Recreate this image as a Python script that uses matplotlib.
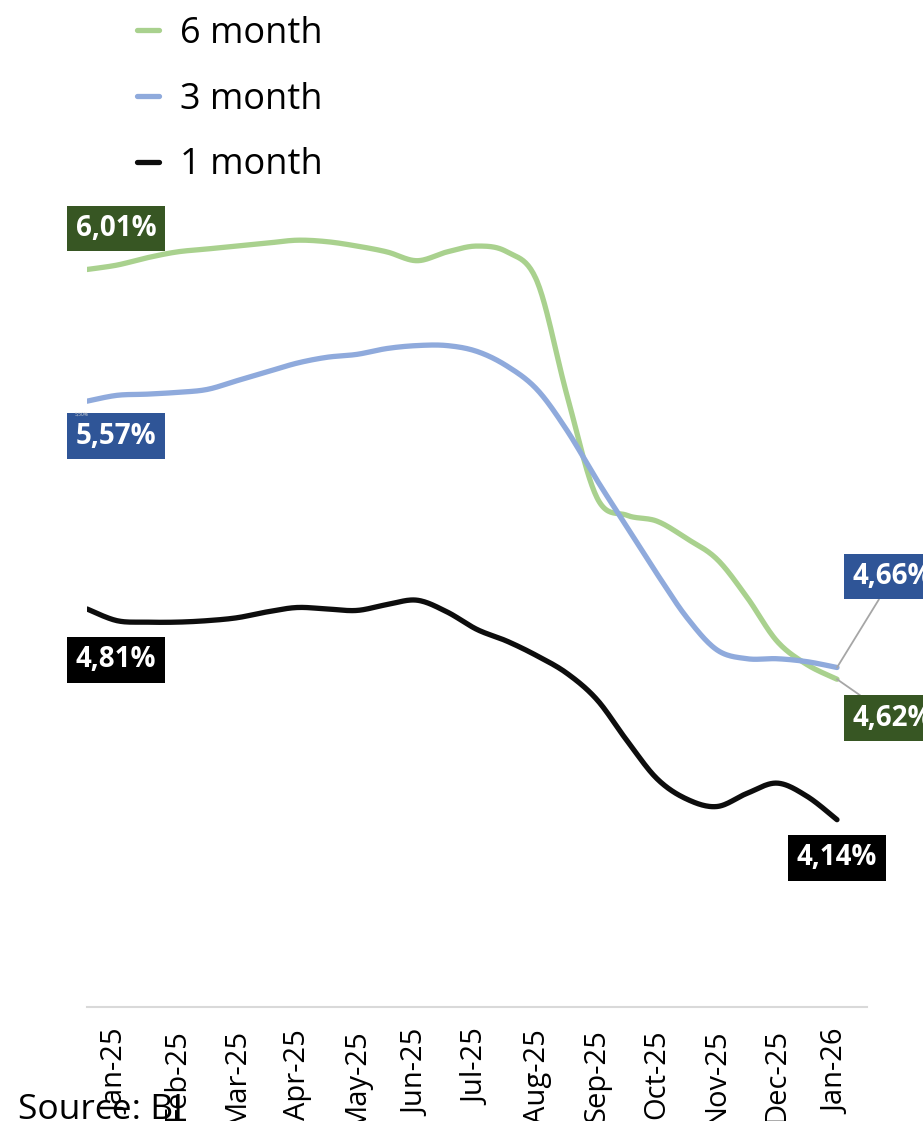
import numpy as np
import matplotlib.pyplot as plt

plt.rcParams['font.family'] = ['Open Sans', 'DejaVu Sans']

months = ['Jan-25', 'Feb-25', 'Mar-25', 'Apr-25', 'May-25', 'Jun-25', 'Jul-25',
          'Aug-25', 'Sep-25', 'Oct-25', 'Nov-25', 'Dec-25', 'Jan-26']

# half-month observations, Jan-25 = 0
t = np.arange(-0.5, 12.01, 0.5)

m6 = [6.02, 6.035, 6.06, 6.08, 6.09, 6.10, 6.11, 6.12, 6.115, 6.10, 6.08, 6.05, 6.08,
      6.10, 6.08, 5.98, 5.59, 5.24, 5.18, 5.16, 5.10, 5.03, 4.90, 4.75, 4.67, 4.62]
m3 = [5.57, 5.59, 5.594, 5.60, 5.61, 5.64, 5.67, 5.70, 5.72, 5.73, 5.75, 5.76, 5.76,
      5.74, 5.69, 5.61, 5.47, 5.30, 5.14, 4.98, 4.83, 4.72, 4.69, 4.69, 4.68, 4.66]
m1 = [4.86, 4.82, 4.815, 4.815, 4.82, 4.83, 4.85, 4.865, 4.86, 4.855, 4.875, 4.89, 4.85,
      4.79, 4.75, 4.70, 4.64, 4.55, 4.41, 4.28, 4.21, 4.185, 4.23, 4.265, 4.22, 4.14]

series = [('6 month', m6, '#A9D18E', '#375623'),
          ('3 month', m3, '#8FAADC', '#2F5597'),
          ('1 month', m1, '#0D0D0D', '#000000')]


def smooth(x, y, n=24):
    # catmull-rom, like excel's smoothed lines
    x = np.asarray(x, float)
    y = np.asarray(y, float)
    px = np.r_[x[0], x, x[-1]]
    py = np.r_[y[0], y, y[-1]]
    xs, ys = [], []
    s = np.linspace(0, 1, n, endpoint=False)
    for i in range(1, len(px) - 2):
        for p, out in ((px, xs), (py, ys)):
            p0, p1, p2, p3 = p[i - 1], p[i], p[i + 1], p[i + 2]
            out.extend(0.5 * (2 * p1 + (-p0 + p2) * s + (2 * p0 - 5 * p1 + 4 * p2 - p3) * s ** 2
                              + (-p0 + 3 * p1 - 3 * p2 + p3) * s ** 3))
    xs.append(x[-1])
    ys.append(y[-1])
    return np.array(xs), np.array(ys)


fig = plt.figure(figsize=(9.23, 11.21), dpi=100)
ax = fig.add_axes([87 / 923, 114 / 1121, 780 / 923, 878 / 1121])

for name, vals, col, _ in series:
    sx, sy = smooth(t, vals)
    ax.plot(sx, sy, color=col, lw=3.8, solid_capstyle='round', label=name)

ax.set_xlim(-0.5, 12.5)
ax.set_ylim(3.5, 6.5)
ax.set_yticks([])
ax.set_xticks(range(len(months)))
ax.set_xticklabels(months, rotation=90, fontsize=21)
ax.tick_params(axis='x', length=0, pad=16)
for sp in ['top', 'left', 'right']:
    ax.spines[sp].set_visible(False)
ax.spines['bottom'].set_color('#d9d9d9')
ax.spines['bottom'].set_linewidth(1.5)


def tag(x, y, txt, fc, dx, dy, leader=False):
    arrow = None
    if leader:
        arrow = dict(arrowstyle='-', color='#a6a6a6', lw=1.3, shrinkA=0, shrinkB=0)
    ax.annotate(txt, (x, y), xytext=(dx, dy), textcoords='offset pixels',
                ha='center', va='center', color='white', fontsize=20, fontweight='bold',
                bbox=dict(boxstyle='square,pad=0.3', fc=fc, ec='none'),
                arrowprops=arrow, annotation_clip=False)


tag(t[0], m6[0], '6,01%', series[0][3], 29, 41)
tag(t[0], m3[0], '5,57%', series[1][3], 29, -35)
tag(t[0], m1[0], '4,81%', series[2][3], 29, -51)
tag(t[-1], m3[-1], '4,66%', series[1][3], 56, 91, leader=True)
tag(t[-1], m6[-1], '4,62%', series[0][3], 56, -39, leader=True)
tag(t[-1], m1[-1], '4,14%', series[2][3], 0, -38)
# stray tiny label left over in the original
ax.annotate('5,50%', (t[0], m3[0]), xytext=(-12, -15), textcoords='offset pixels',
            fontsize=3.5, color='#d9d9d9', zorder=5)

fig.legend(loc='upper left', bbox_to_anchor=(137 / 923, 1 - 16 / 1121), frameon=False,
           fontsize=26, handlelength=0.6, handletextpad=0.6, labelspacing=0.82,
           borderpad=0, borderaxespad=0)

fig.text(18 / 923, 2 / 1121, 'Source: BI', fontsize=25.5, va='baseline')

fig.savefig('out.png', dpi=100)
